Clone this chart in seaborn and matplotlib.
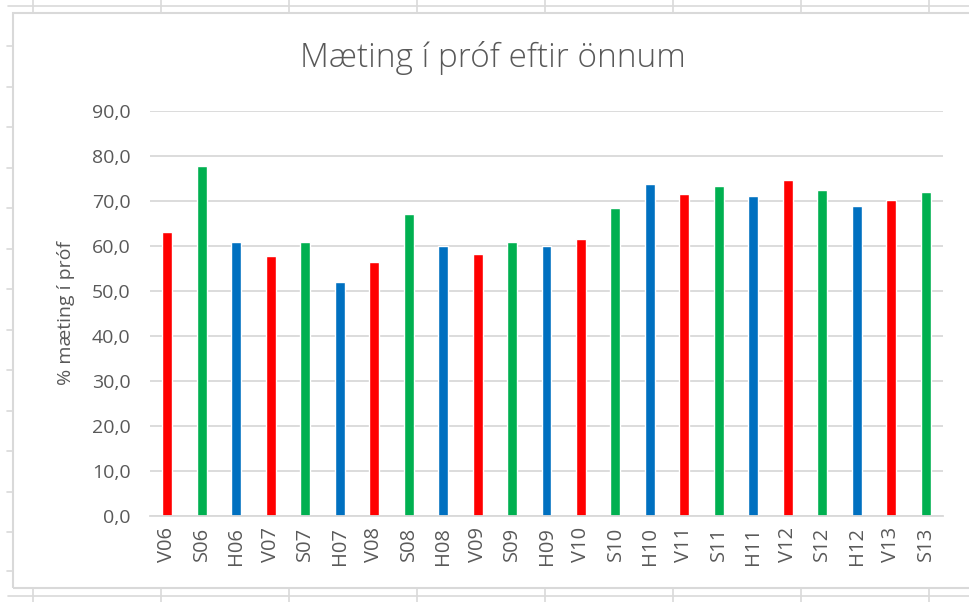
import matplotlib
matplotlib.use("Agg")
import matplotlib.pyplot as plt
import seaborn as sns
import pandas as pd
from matplotlib.lines import Line2D
from matplotlib.patches import Rectangle
from matplotlib.ticker import FuncFormatter, MultipleLocator

categories = ["V06", "S06", "H06", "V07", "S07", "H07", "V08", "S08", "H08",
              "V09", "S09", "H09", "V10", "S10", "H10", "V11", "S11", "H11",
              "V12", "S12", "H12", "V13", "S13"]
values = [63.1, 77.8, 60.9, 57.8, 60.9, 52.0, 56.4, 67.1, 60.0,
          58.2, 60.9, 60.0, 61.4, 68.5, 73.8, 71.6, 73.3, 71.1,
          74.6, 72.4, 68.8, 70.2, 72.0]
term_colors = {"V": "#FF0000", "S": "#00B050", "H": "#0070C0"}
title = "Mæting í próf eftir önnum"
ylabel = "% mæting í próf"

df = pd.DataFrame({"cat": categories, "val": values,
                   "term": [c[0] for c in categories]})

sns.set_theme(style="white")
plt.rcParams["font.family"] = ["Open Sans", "DejaVu Sans"]

W, H = 969, 602
fig = plt.figure(figsize=(W / 100, H / 100), dpi=100)
fig.patch.set_facecolor("white")

def fx(px):
    return px / W

def fy(py):
    return 1 - py / H

grid_c = "#D9D9D9"
text_c = "#595959"
# spreadsheet background lines
fig.add_artist(Line2D([fx(8), 1], [fy(6), fy(6)], color=grid_c, lw=1.2))
fig.add_artist(Line2D([fx(8), 1], [fy(596), fy(596)], color=grid_c, lw=1.2))
for x in [33, 161, 289, 417, 545, 673, 801, 929]:
    fig.add_artist(Line2D([fx(x), fx(x)], [fy(0), fy(12)], color=grid_c, lw=1.2))
    fig.add_artist(Line2D([fx(x), fx(x)], [fy(589), fy(602)], color=grid_c, lw=1.2))
for y in [46, 87, 127, 168, 208, 249, 289, 330, 370, 411, 451, 492, 532, 571]:
    fig.add_artist(Line2D([fx(7), fx(13)], [fy(y), fy(y)], color=grid_c, lw=1.2))
# chart area border
fig.add_artist(Rectangle((fx(13), fy(588)), 1.2, fy(13) - fy(588),
                         fill=False, edgecolor=grid_c, lw=1.5))

ax = fig.add_axes([fx(150), fy(516), fx(943) - fx(150), fy(110.7) - fy(516)])
sns.barplot(data=df, x="cat", y="val", hue="term", palette=term_colors,
            width=0.29, legend=False, ax=ax, saturation=1, dodge=False)

ax.set_ylim(0, 90)
ax.set_xlim(-0.5, len(categories) - 0.5)
ax.yaxis.set_major_locator(MultipleLocator(10))
ax.yaxis.set_major_formatter(FuncFormatter(lambda v, p: f"{v:.1f}".replace(".", ",")))
ax.grid(axis="y", color=grid_c, lw=1.3)
ax.set_axisbelow(True)
for s in ["top", "right", "left"]:
    ax.spines[s].set_visible(False)
ax.spines["bottom"].set_color(grid_c)
ax.spines["bottom"].set_linewidth(1.3)
ax.tick_params(axis="y", length=0, colors=text_c, labelsize=14, pad=14)
ax.tick_params(axis="x", length=0, colors=text_c, labelsize=14.5, pad=8, rotation=90)
ax.set_xlabel("")
ax.set_ylabel(ylabel, color=text_c, fontsize=14, va="center")
ax.yaxis.set_label_coords((66 - 150) / (943 - 150), 0.5)

fig.text(fx(493), fy(58), title, ha="center", va="center",
         fontsize=24, color=text_c, fontweight="light")

fig.savefig("out.png", dpi=100, facecolor="white")
